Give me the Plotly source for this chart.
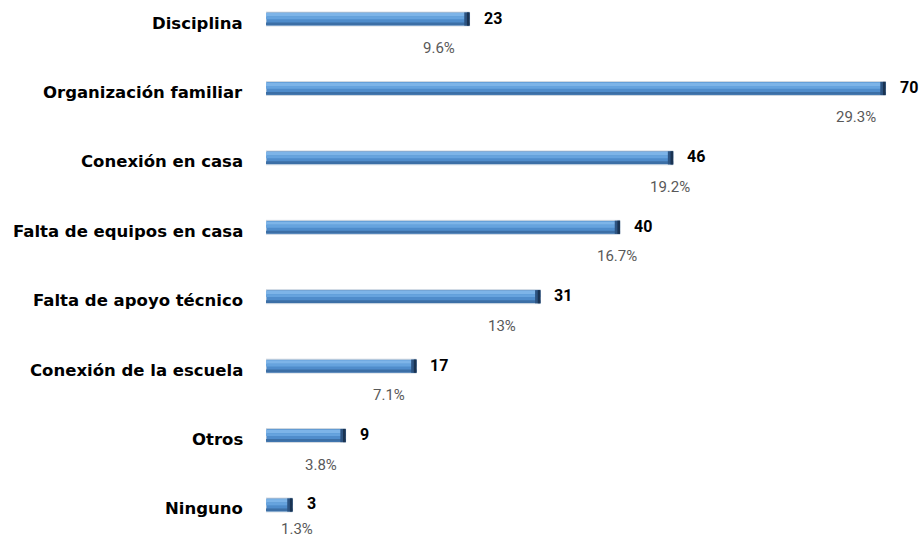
import plotly.graph_objects as go

# Datos
categorias = [
    "Disciplina",
    "Organización familiar",
    "Conexión en casa",
    "Falta de equipos en casa",
    "Falta de apoyo técnico",
    "Conexión de la escuela",
    "Otros",
    "Ninguno",
]
valores = [23, 70, 46, 40, 31, 17, 9, 3]
porcentajes = ["9.6%", "29.3%", "19.2%", "16.7%", "13%", "7.1%", "3.8%", "1.3%"]

# desplazamientos (px) de cada etiqueta de porcentaje respecto al final de la barra
PCT_XSHIFT = [-31, -30, -3, -3, -38, -27, -25, 4]
PCT_YSHIFT = [-29, -29, -29, -29, -29, -29, -29, -24]

FONT = "Roboto, sans-serif"
CAP = 0.6  # ancho del remate oscuro, en unidades del eje

fig = go.Figure()

# cuerpo de la barra
fig.add_trace(go.Bar(
    y=categorias, x=valores, orientation="h",
    width=0.2, offset=-0.1,
    marker=dict(color="#4f8ccb", line=dict(color="#d3d9e0", width=1)),
    hoverinfo="x+y",
))
# brillo superior
fig.add_trace(go.Bar(
    y=categorias, x=valores, orientation="h",
    width=0.05, offset=-0.085,
    marker=dict(color="#7db4e8", line=dict(width=0)),
    hoverinfo="skip",
))
fig.add_trace(go.Bar(
    y=categorias, x=valores, orientation="h",
    width=0.04, offset=-0.035,
    marker=dict(color="#66a3de", line=dict(width=0)),
    hoverinfo="skip",
))
# sombra inferior
fig.add_trace(go.Bar(
    y=categorias, x=valores, orientation="h",
    width=0.04, offset=0.05,
    marker=dict(color="#3c6fa6", line=dict(width=0)),
    hoverinfo="skip",
))
# remate oscuro a la derecha
fig.add_trace(go.Bar(
    y=categorias, x=[CAP] * len(valores), base=[v - CAP for v in valores],
    orientation="h", width=0.19, offset=-0.095,
    marker=dict(color="#2d5482", line=dict(width=0)),
    hoverinfo="skip",
))
fig.add_trace(go.Bar(
    y=categorias, x=[CAP / 2] * len(valores), base=[v - CAP / 2 for v in valores],
    orientation="h", width=0.19, offset=-0.095,
    marker=dict(color="#1a3352", line=dict(width=0)),
    hoverinfo="skip",
))

for cat, v, p, dx, dy in zip(categorias, valores, porcentajes, PCT_XSHIFT, PCT_YSHIFT):
    # nombre de la categoría
    fig.add_annotation(
        x=0, xref="paper", y=cat, text=f"<b>{cat}</b>", showarrow=False,
        xanchor="right", yanchor="middle", xshift=-21, yshift=-4,
        font=dict(family="DejaVu Sans, sans-serif", size=16.5, color="#000000"),
    )
    # valor
    fig.add_annotation(
        x=v, y=cat, text=f"<b>{v}</b>", showarrow=False,
        xanchor="left", yanchor="middle", xshift=12, yshift=1,
        font=dict(family=FONT, size=16, color="#000000"),
    )
    # porcentaje
    fig.add_annotation(
        x=v, y=cat, text=p, showarrow=False,
        xanchor="center", yanchor="middle", xshift=dx, yshift=dy,
        font=dict(family=FONT, size=15, color="#595959"),
    )

fig.update_layout(
    width=923, height=539,
    margin=dict(l=266, r=2, t=0, b=0),
    barmode="overlay",
    showlegend=False,
    plot_bgcolor="white",
    paper_bgcolor="white",
    font=dict(family=FONT, size=16, color="#000000"),
)
fig.update_xaxes(range=[0, 74], visible=False, fixedrange=True)
fig.update_yaxes(
    categoryorder="array", categoryarray=categorias,
    range=[7.49, -0.274],
    showgrid=False, zeroline=False, showline=False, ticks="",
    showticklabels=False, fixedrange=True,
)

fig.write_html(
    "out.html",
    config={"displayModeBar": False},
    post_script="document.body.style.margin='0';",
)
